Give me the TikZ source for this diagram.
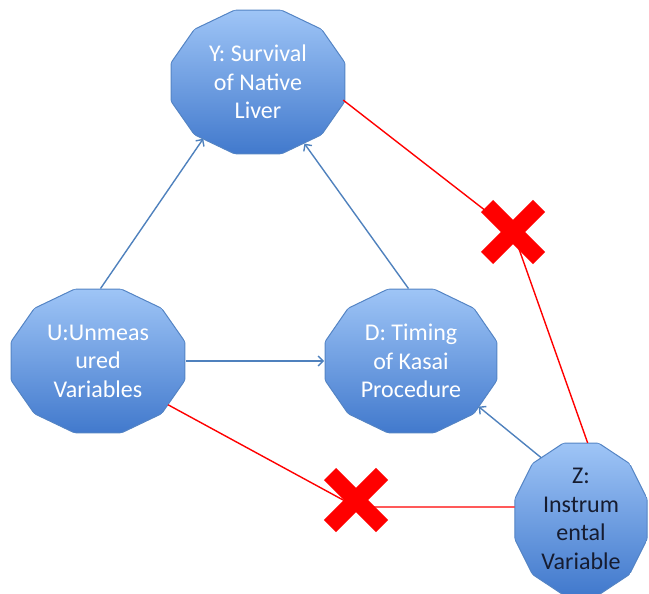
\documentclass[tikz,border=0pt]{standalone}
\usepackage{fontspec}
\setmainfont{Carlito}
\usetikzlibrary{shapes.geometric,shapes.misc,arrows.meta,calc}
\definecolor{nodetop}{RGB}{160,198,247}
\definecolor{nodebot}{RGB}{64,120,204}
\definecolor{nodeline}{RGB}{84,132,196}
\definecolor{arrowblue}{RGB}{79,129,189}
\definecolor{crossred}{RGB}{255,0,0}
\definecolor{darktext}{RGB}{22,28,48}
\tikzset{
  var/.style={shape=ellipse, inner sep=0pt, outer sep=-2pt, align=center,
    font=\fontsize{24}{28.5}\selectfont, text=white,
    path picture={\shade[top color=nodetop, bottom color=nodebot, draw=nodeline, line width=1pt]
      let \p1=(path picture bounding box.north east), \p2=(path picture bounding box.center) in
      plot[variable=\t, samples at={15,45,...,345}] ({\x2+(\x1-\x2)*cos(\t)},{\y2+(\y1-\y2)*sin(\t)}) -- cycle;}},
  link/.style={-{Straight Barb[length=5pt,width=10pt]}, draw=arrowblue, line width=1.4pt},
  block/.style={draw=crossred, line width=1.4pt},
  nomark/.style={cross out, draw=crossred, line width=17pt, minimum size=35pt, inner sep=0pt}
}
\begin{document}
\begin{tikzpicture}[x=1pt,y=-1pt]
  \useasboundingbox (0,0) rectangle (649,594);
  \node[var, minimum width=180pt, minimum height=149pt] (Y) at (258,82) {Y: Survival\\of Native\\Liver};
  \node[var, minimum width=180pt, minimum height=149pt] (U) at (98,361) {U:Unmeas\\ured\\Variables};
  \node[var, minimum width=178pt, minimum height=149pt] (D) at (411,361) {D: Timing\\of Kasai\\Procedure};
  \node[var, minimum width=137pt, minimum height=157pt, text=darktext] (Z) at (581,519) {Z:\\Instrum\\ental\\Variable};
  \draw[link] (U.88) -- (Y.226);
  \draw[link] (D.92) -- (Y.307.6);
  \draw[link] (U.east) -- (D.west);
  \draw[link] (Z.123.5) -- (D.326);
  \coordinate (xa) at (513,232);
  \coordinate (xb) at (356,507);
  \draw[block] (Y.-12.5) -- (xa) -- (Z.85);
  \draw[block] (U.-32) -- (xb) -- (xb -| Z.west);
  \node[nomark] (ca) at (xa) {};
  \node[nomark] (cb) at (356,500) {};
\end{tikzpicture}
\end{document}
